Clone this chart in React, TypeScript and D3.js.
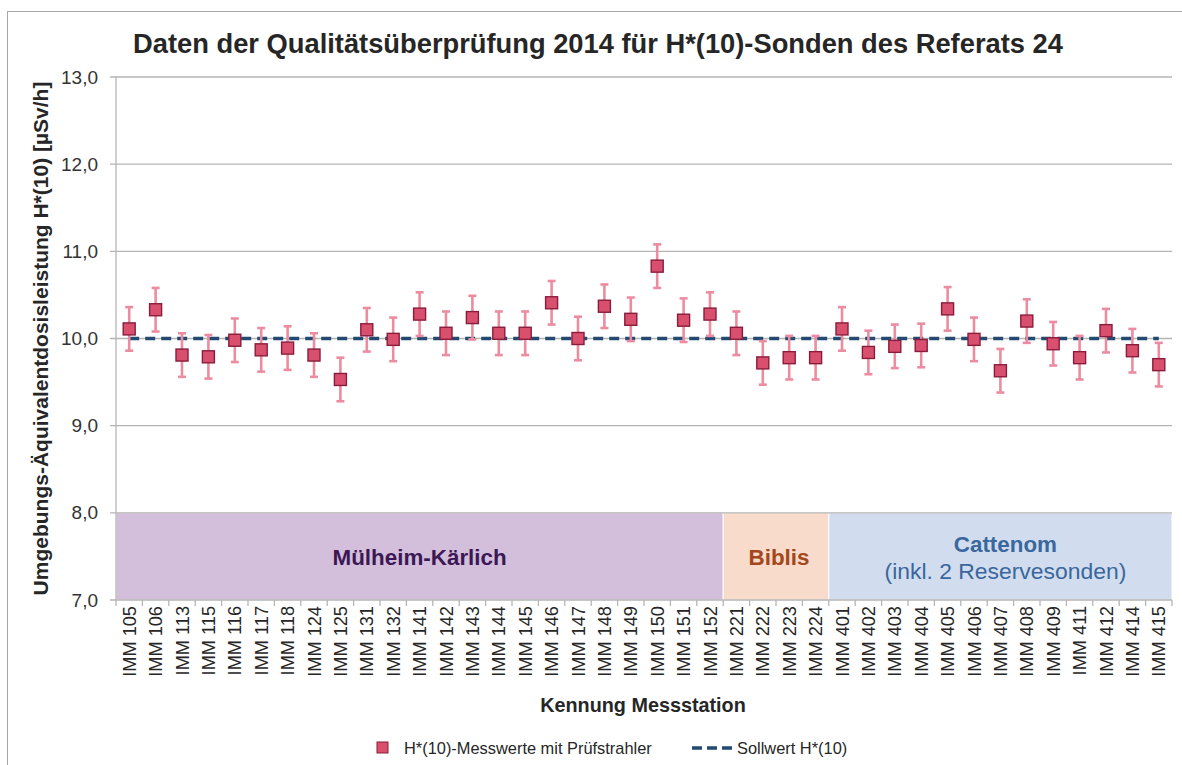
import React from "react";
import * as d3 from "d3";

const stations = [
  "IMM 105", "IMM 106", "IMM 113", "IMM 115", "IMM 116", "IMM 117", "IMM 118", "IMM 124",
  "IMM 125", "IMM 131", "IMM 132", "IMM 141", "IMM 142", "IMM 143", "IMM 144", "IMM 145",
  "IMM 146", "IMM 147", "IMM 148", "IMM 149", "IMM 150", "IMM 151", "IMM 152",
  "IMM 221", "IMM 222", "IMM 223", "IMM 224",
  "IMM 401", "IMM 402", "IMM 403", "IMM 404", "IMM 405", "IMM 406", "IMM 407", "IMM 408",
  "IMM 409", "IMM 411", "IMM 412", "IMM 414", "IMM 415",
];

const measured = [
  10.11, 10.33, 9.81, 9.79, 9.98, 9.87, 9.89, 9.81,
  9.53, 10.1, 9.99, 10.28, 10.06, 10.24, 10.06, 10.06,
  10.41, 10.0, 10.37, 10.22, 10.83, 10.21, 10.28,
  10.06, 9.72, 9.78, 9.78,
  10.11, 9.84, 9.91, 9.92, 10.34, 9.99, 9.63, 10.2,
  9.94, 9.78, 10.09, 9.86, 9.7,
];

const errorHalfWidth = 0.25;
const sollwert = 10.0;

const yTicks = [7, 8, 9, 10, 11, 12, 13];

const groupNames = ["Mülheim-Kärlich", "Biblis", "Cattenom"];
const groupSubtitles = ["", "", "(inkl. 2 Reservesonden)"];
const groupFirst = ["IMM 105", "IMM 221", "IMM 401"];
const groupLast = ["IMM 152", "IMM 224", "IMM 415"];
const groupFill = ["#d3bedb", "#f8dbca", "#d1ddee"];
const groupText = ["#3b1854", "#a2481c", "#3a679d"];

const title = "Daten der Qualitätsüberprüfung 2014 für H*(10)-Sonden des Referats 24";
const yTitle = "Umgebungs-Äquivalentdosisleistung H*(10) [µSv/h]";
const xTitle = "Kennung Messstation";
const legendMeasured = "H*(10)-Messwerte mit Prüfstrahler";
const legendTarget = "Sollwert H*(10)";

const FONT = "'Liberation Sans', Arial, Helvetica, sans-serif";

export default function App() {
  const W = 1182, H = 765;
  const left = 116, right = 1172, top = 77, bottom = 600;
  const x = d3.scaleBand<string>().domain(stations).range([left, right]).padding(0);
  const y = d3.scaleLinear().domain([7, 13]).range([bottom, top]);
  const bw = x.bandwidth();
  const cx = (s: string) => (x(s) as number) + bw / 2;
  const fmt = (v: number) => d3.format(".1f")(v).replace(".", ",");
  const gridColor = "#b5b5b5";
  const errColor = "#ec8ca0";
  const markFill = "#d9506f";
  const markStroke = "#8a1c3b";
  const dashColor = "#234a72";
  const ms = 12;

  const lineGen = d3.line<string>().x((s) => cx(s)).y(() => y(sollwert));

  return (
    <svg width={W} height={H} style={{ position: "absolute", left: 0, top: 0, background: "#fff" }} fontFamily={FONT}>
      <rect x={7.5} y={11.5} width={1300} height={900} fill="none" stroke="#a6a6a6" strokeWidth={1} />
      <text x={598} y={53} textAnchor="middle" fontSize={27.3} fontWeight="bold" fill="#262626">{title}</text>

      {/* group bands */}
      {groupNames.map((g, i) => {
        const x0 = x(groupFirst[i]) as number;
        const x1 = (x(groupLast[i]) as number) + bw;
        return (
          <rect key={g} x={x0} y={y(8)} width={x1 - x0} height={y(7) - y(8)} fill={groupFill[i]} stroke="#ffffff" strokeWidth={1} />
        );
      })}

      {/* gridlines */}
      {yTicks.map((t) => (
        <line key={t} x1={left - 6} x2={right} y1={y(t)} y2={y(t)} stroke={gridColor} strokeWidth={1.3} />
      ))}
      <line x1={left} x2={left} y1={top} y2={bottom} stroke={gridColor} strokeWidth={1.3} />
      {d3.range(stations.length + 1).map((k) => (
        <line key={k} x1={left + k * bw} x2={left + k * bw} y1={bottom} y2={bottom + 6} stroke={gridColor} strokeWidth={1.3} />
      ))}

      {/* y tick labels */}
      {yTicks.map((t) => (
        <text key={t} x={98} y={y(t)} dy="0.35em" textAnchor="end" fontSize={19} fill="#333">{fmt(t)}</text>
      ))}

      {/* x tick labels */}
      {stations.map((s) => (
        <text key={s} transform={`translate(${cx(s)},${bottom + 6}) rotate(-90)`} dy="0.36em" textAnchor="end" fontSize={18.2} fill="#262626">{s}</text>
      ))}

      {/* group labels */}
      {groupNames.map((g, i) => {
        const x0 = x(groupFirst[i]) as number;
        const x1 = (x(groupLast[i]) as number) + bw;
        const mid = (x0 + x1) / 2 + (i === 1 ? 3 : i === 2 ? 5 : 0);
        return (
          <g key={g}>
            <text x={mid} y={groupSubtitles[i] ? 552 : 565} textAnchor="middle" fontSize={22.4} fontWeight="bold" fill={groupText[i]}>{g}</text>
            {groupSubtitles[i] && (
              <text x={mid} y={579} textAnchor="middle" fontSize={22.9} fill={groupText[i]}>{groupSubtitles[i]}</text>
            )}
          </g>
        );
      })}

      {/* sollwert line */}
      <path d={lineGen(stations) as string} fill="none" stroke={dashColor} strokeWidth={3.6} strokeDasharray="10 6" />

      {/* error bars */}
      {stations.map((s, i) => {
        const c = cx(s);
        const v = measured[i];
        return (
          <g key={s} stroke={errColor} strokeWidth={2.6}>
            <line x1={c} x2={c} y1={y(v + errorHalfWidth)} y2={y(v - errorHalfWidth)} />
            <line x1={c - 4} x2={c + 4} y1={y(v + errorHalfWidth)} y2={y(v + errorHalfWidth)} />
            <line x1={c - 4} x2={c + 4} y1={y(v - errorHalfWidth)} y2={y(v - errorHalfWidth)} />
          </g>
        );
      })}

      {/* markers */}
      {stations.map((s, i) => (
        <rect key={s} x={cx(s) - ms / 2} y={y(measured[i]) - ms / 2} width={ms} height={ms} fill={markFill} stroke={markStroke} strokeWidth={1.4} />
      ))}

      {/* axis titles */}
      <text transform={`translate(48,${(top + bottom) / 2}) rotate(-90)`} textAnchor="middle" fontSize={21} fontWeight="bold" fill="#262626">{yTitle}</text>
      <text x={643} y={712} textAnchor="middle" fontSize={19.8} fontWeight="bold" fill="#262626">{xTitle}</text>

      {/* legend */}
      <rect x={377} y={742} width={11} height={11} fill={markFill} stroke={markStroke} strokeWidth={1} />
      <text x={404} y={748} dy="0.35em" fontSize={16.4} fill="#262626">{legendMeasured}</text>
      <line x1={692} x2={734} y1={748} y2={748} stroke={dashColor} strokeWidth={3.6} strokeDasharray="10 5" />
      <text x={737} y={748} dy="0.35em" fontSize={16.4} fill="#262626">{legendTarget}</text>
    </svg>
  );
}
